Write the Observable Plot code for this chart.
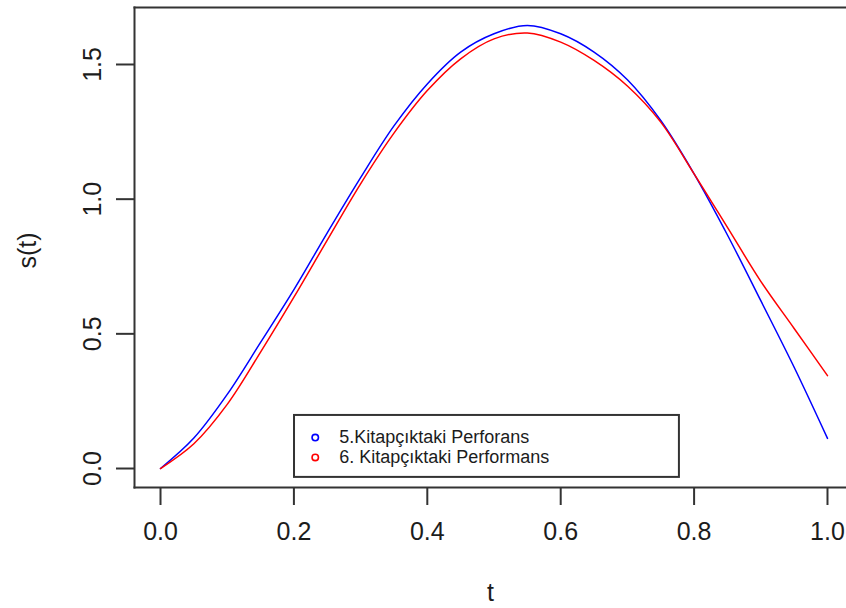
<!DOCTYPE html>
<html>
<head>
<meta charset="utf-8">
<script src="https://cdn.jsdelivr.net/npm/d3@7"></script>
<script src="https://cdn.jsdelivr.net/npm/@observablehq/plot@0.6"></script>
<style>
  html, body { margin: 0; padding: 0; background: #fff; overflow: hidden; }
  svg { display: block; }
</style>
</head>
<body>
<div id="chart"></div>
<script>
const tValues = [0, 0.05, 0.10, 0.15, 0.20, 0.25, 0.30, 0.35, 0.40, 0.45, 0.50, 0.55, 0.60, 0.65, 0.70, 0.75, 0.80, 0.85, 0.90, 0.95, 1.00];
const series5 = [0, 0.113, 0.275, 0.468, 0.664, 0.875, 1.080, 1.272, 1.428, 1.546, 1.614, 1.645, 1.614, 1.546, 1.443, 1.292, 1.094, 0.867, 0.623, 0.376, 0.112];
const series6 = [0, 0.092, 0.238, 0.432, 0.636, 0.848, 1.057, 1.245, 1.403, 1.521, 1.595, 1.617, 1.583, 1.515, 1.420, 1.286, 1.094, 0.895, 0.695, 0.520, 0.345];
const seriesNames = ["5.Kitapçıktaki Perforans", "6. Kitapçıktaki Performans"];
const seriesColors = ["#0000ff", "#ff0000"];
const xTicks = [0, 0.2, 0.4, 0.6, 0.8, 1.0];
const yTicks = [0, 0.5, 1.0, 1.5];
const xLabel = "t";
const yLabel = "s(t)";

const rows = [];
[series5, series6].forEach((vals, i) => {
  tValues.forEach((t, j) => rows.push({t, s: vals[j], series: seriesNames[i]}));
});

// legend placed in data space like R's legend(x, y, ...)
const legendBox = {x1: 0.2009, x2: 0.778, y1: -0.033, y2: 0.197};
const legendRows = seriesNames.map((name, i) => ({name, color: seriesColors[i], y: [0.115, 0.041][i]}));

const ink = "#1c1c1c";
const plot = Plot.plot({
  width: 846,
  height: 608,
  marginLeft: 134,
  marginRight: 0,
  marginTop: 7,
  marginBottom: 121,
  style: {fontFamily: "'Liberation Sans', Arial, sans-serif", background: "#fff", color: ink},
  x: {domain: [-0.039, 1.0285], label: null},
  y: {domain: [-0.0705, 1.7116], label: null},
  color: {domain: seriesNames, range: seriesColors},
  marks: [
    Plot.frame({anchor: "left", stroke: "#333", strokeWidth: 2}),
    Plot.frame({anchor: "top", stroke: "#333", strokeWidth: 2}),
    Plot.frame({anchor: "bottom", stroke: "#333", strokeWidth: 2}),
    Plot.axisX({ticks: xTicks, tickSize: 18, tickPadding: 17, tickFormat: d3.format(".1f"), fontSize: 25, stroke: "#333", strokeWidth: 2, label: null}),
    Plot.axisY({ticks: yTicks, tickSize: 18, tickPadding: 16, tickRotate: -90, tickFormat: d3.format(".1f"), fontSize: 25, stroke: "#333", strokeWidth: 2, label: null}),
    Plot.line(rows, {x: "t", y: "s", z: "series", stroke: "series", strokeWidth: 1.5, curve: "catmull-rom"}),
    Plot.rect([legendBox], {x1: "x1", x2: "x2", y1: "y1", y2: "y2", fill: "#fff", stroke: "#333", strokeWidth: 2}),
    Plot.dot(legendRows, {x: () => 0.232, y: "y", r: 3.2, stroke: "color", strokeWidth: 1.6, fill: "none"}),
    Plot.text(legendRows, {x: () => 0.268, y: "y", text: "name", textAnchor: "start", fontSize: 18, fill: ink}),
    Plot.text([xLabel], {frameAnchor: "bottom", lineAnchor: "middle", dy: 105, fontSize: 25, fill: ink}),
    Plot.text([yLabel], {frameAnchor: "left", textAnchor: "middle", lineAnchor: "middle", dx: -107, dy: 3, rotate: -90, fontSize: 25, fill: ink})
  ]
});
document.getElementById("chart").appendChild(plot);
</script>
</body>
</html>
